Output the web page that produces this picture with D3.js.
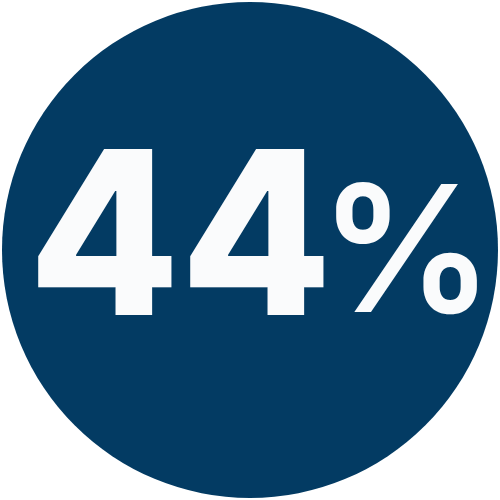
<!DOCTYPE html>
<html><head><meta charset="utf-8">
<script src="https://cdn.jsdelivr.net/npm/d3@7"></script>
<style>html,body{margin:0;padding:0;background:#fff;}svg{display:block;}</style>
</head><body>
<script>
const values = [44];
const labels = ["44"];
const suffixes = ["%"];

const W = 500, H = 500;
const svg = d3.select("body").append("svg").attr("width", W).attr("height", H);
const r = d3.scaleSqrt().domain([0, 44]).range([0, 248]);

svg.selectAll("circle").data(values).join("circle")
  .attr("cx", 250).attr("cy", 250).attr("r", d => r(d))
  .attr("fill", "#033b63");

const family = "Inter";
const ctx = document.createElement("canvas").getContext("2d");
function ink(txt, weight, size) {
  ctx.font = `${weight} ${size}px ${family}`;
  const m = ctx.measureText(txt);
  return {left: -m.actualBoundingBoxLeft, right: m.actualBoundingBoxRight,
          top: -m.actualBoundingBoxAscent, bottom: m.actualBoundingBoxDescent};
}
// fit a text's ink box into a target box [x0,y0,x1,y1]
function fit(txt, weight, box) {
  const base = 100;
  const b = ink(txt, weight, base);
  const size = base * (box[3] - box[1]) / (b.bottom - b.top);
  const bb = ink(txt, weight, size);
  const sx = (box[2] - box[0]) / (bb.right - bb.left);
  return {size, x: box[0] - bb.left * sx, y: box[3] - bb.bottom, sx};
}

function draw(txt, weight, box) {
  const f = fit(txt, weight, box);
  svg.append("text").text(txt)
    .attr("transform", `translate(${f.x},${f.y}) scale(${f.sx},1)`)
    .attr("fill", "#fafbfc")
    .style("font-family", family)
    .style("font-weight", weight)
    .style("font-size", f.size + "px");
}

document.fonts.load(`800 100px ${family}`).then(() => {
  draw(labels[0], 800, [38, 148, 324, 315]);
  draw(suffixes[0], 600, [336, 181, 477, 315]);
});
</script>
</body></html>
